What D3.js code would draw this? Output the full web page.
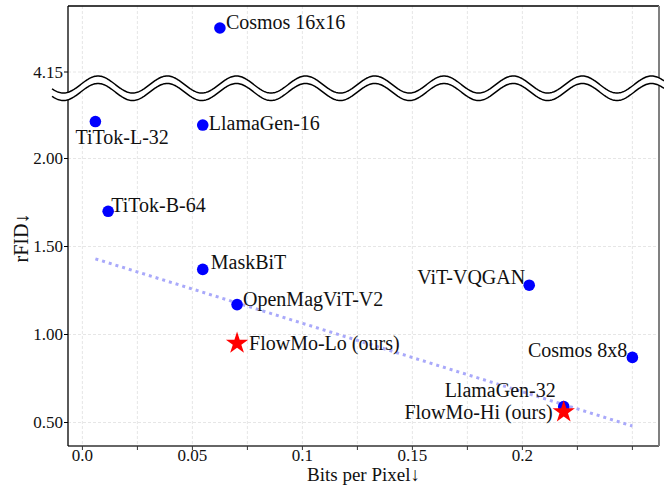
<!DOCTYPE html>
<html>
<head>
<meta charset="utf-8">
<script src="https://cdn.jsdelivr.net/npm/d3@7"></script>
<style>
  html, body { margin: 0; padding: 0; background: #fff; }
  svg text { font-family: "Liberation Serif", "Times New Roman", serif; fill: #111; }
</style>
</head>
<body>
<div id="chart"></div>
<script>
// data
const models = ['Cosmos 16x16', 'TiTok-L-32', 'LlamaGen-16', 'TiTok-B-64', 'MaskBiT', 'OpenMagViT-V2',
  'FlowMo-Lo (ours)', 'ViT-VQGAN', 'Cosmos 8x8', 'LlamaGen-32', 'FlowMo-Hi (ours)']
const bitsPerPixel = [0.0625, 0.0059, 0.0547, 0.0117, 0.0547, 0.0703, 0.0703, 0.2031, 0.25, 0.2188, 0.2188]
const rfidValues = [4.40, 2.21, 2.19, 1.70, 1.37, 1.17, 0.95, 1.28, 0.87, 0.59, 0.56]
const isOurs = [false, false, false, false, false, false, true, false, false, false, true]
const trendX = [0.0059, 0.25]
const trendY = [1.43, 0.48]
const xTicks = [0, 0.05, 0.1, 0.15, 0.2]
const xTickLabels = ['0.0', '0.05', '0.1', '0.15', '0.2']
const xMinorTicks = [0.025, 0.075, 0.125, 0.175, 0.225, 0.25]
const yTicks = [0.5, 1.0, 1.5, 2.0, 4.15]
const yTickLabels = ['0.50', '1.00', '1.50', '2.00', '4.15']

const width = 664
const height = 487
const plot = {left: 68, right: 659, top: 6, bottom: 446}

// label placement relative to the marker: [dx, dy, anchor]
const labelPos = {
  'Cosmos 16x16': [6, 1, 'start'],
  'TiTok-L-32': [-20, 22, 'start'],
  'LlamaGen-16': [6, 5, 'start'],
  'TiTok-B-64': [3, 1, 'start'],
  'MaskBiT': [8, 0, 'start'],
  'OpenMagViT-V2': [6, 1, 'start'],
  'FlowMo-Lo (ours)': [12, 7, 'start'],
  'ViT-VQGAN': [-4, -1, 'end'],
  'Cosmos 8x8': [-5, 0, 'end'],
  'LlamaGen-32': [-8, -10, 'end'],
  'FlowMo-Hi (ours)': [-11, 7, 'end']
}

const x = d3.scaleLinear().domain([-0.00655, 0.2621]).range([plot.left, plot.right])
// broken axis: the gap between 2.30 and 4.10 is squeezed into the wave band
const y = d3.scaleLinear().domain([0.3665, 2.30, 4.10, 4.525]).range([plot.bottom, 105.7, 80.8, plot.top])

const svg = d3.select('#chart').append('svg')
  .attr('width', width).attr('height', height)

// grid
const grid = svg.append('g')
grid.selectAll('line.gx')
  .data(xTicks.concat(xMinorTicks))
  .enter().append('line')
  .attr('x1', d => x(d)).attr('x2', d => x(d))
  .attr('y1', plot.top).attr('y2', plot.bottom)
  .attr('stroke', '#e0e0e0').attr('stroke-width', 0.8).attr('stroke-dasharray', '3,2')
grid.selectAll('line.gy')
  .data(yTicks)
  .enter().append('line')
  .attr('x1', plot.left).attr('x2', plot.right)
  .attr('y1', d => y(d)).attr('y2', d => y(d))
  .attr('stroke', '#e0e0e0').attr('stroke-width', 0.8).attr('stroke-dasharray', '3,2')

// trend line
svg.append('path')
  .datum(trendX.map((d, i) => [d, trendY[i]]))
  .attr('d', d3.line().x(d => x(d[0])).y(d => y(d[1])))
  .attr('fill', 'none').attr('stroke', '#a9a9fa').attr('stroke-width', 3).attr('stroke-dasharray', '3,4')

const points = models.map((m, i) => ({name: m, bpp: bitsPerPixel[i], rfid: rfidValues[i], ours: isOurs[i]}))

svg.selectAll('circle.pt')
  .data(points.filter(d => !d.ours))
  .enter().append('circle')
  .attr('cx', d => x(d.bpp)).attr('cy', d => y(d.rfid)).attr('r', 5.8)
  .attr('fill', '#0000ff')

svg.selectAll('path.star')
  .data(points.filter(d => d.ours))
  .enter().append('path')
  .attr('transform', d => `translate(${x(d.bpp)}, ${y(d.rfid)})`)
  .attr('d', d3.symbol().type(d3.symbolStar).size(155))
  .attr('fill', '#ff0000')

svg.selectAll('text.lbl')
  .data(points)
  .enter().append('text')
  .attr('x', d => x(d.bpp) + labelPos[d.name][0])
  .attr('y', d => y(d.rfid) + labelPos[d.name][1])
  .attr('text-anchor', d => labelPos[d.name][2])
  .attr('font-size', 20)
  .text(d => d.name)

// spines
svg.append('line').attr('x1', plot.left).attr('x2', plot.right).attr('y1', plot.top).attr('y2', plot.top)
  .attr('stroke', '#000').attr('stroke-width', 1.3)
svg.append('line').attr('x1', plot.left).attr('x2', plot.right).attr('y1', plot.bottom).attr('y2', plot.bottom)
  .attr('stroke', '#333').attr('stroke-width', 1.3)
svg.append('line').attr('x1', plot.left).attr('x2', plot.left).attr('y1', plot.top).attr('y2', plot.bottom)
  .attr('stroke', '#000').attr('stroke-width', 1.3)
svg.append('line').attr('x1', plot.right).attr('x2', plot.right).attr('y1', plot.top).attr('y2', plot.bottom)
  .attr('stroke', '#808080').attr('stroke-width', 2)

// ticks
svg.selectAll('line.xt')
  .data(xTicks.concat(xMinorTicks))
  .enter().append('line')
  .attr('x1', d => x(d)).attr('x2', d => x(d))
  .attr('y1', plot.bottom).attr('y2', plot.bottom + 4)
  .attr('stroke', '#333').attr('stroke-width', 1)
svg.selectAll('text.xt')
  .data(xTicks)
  .enter().append('text')
  .attr('x', d => x(d)).attr('y', plot.bottom + 15)
  .attr('text-anchor', 'middle').attr('font-size', 17)
  .text((d, i) => xTickLabels[i])

svg.selectAll('line.yt')
  .data(yTicks)
  .enter().append('line')
  .attr('x1', plot.left - 4).attr('x2', plot.left)
  .attr('y1', d => y(d)).attr('y2', d => y(d))
  .attr('stroke', '#000').attr('stroke-width', 1)
svg.selectAll('text.yt')
  .data(yTicks)
  .enter().append('text')
  .attr('x', plot.left - 5).attr('y', d => y(d)).attr('dy', '0.35em')
  .attr('text-anchor', 'end').attr('font-size', 17)
  .text((d, i) => yTickLabels[i])

// axis titles
svg.append('text')
  .attr('x', (plot.left + plot.right) / 2).attr('y', 481)
  .attr('text-anchor', 'middle').attr('font-size', 19)
  .text('Bits per Pixel↓')
svg.append('text')
  .attr('transform', `translate(28, ${(plot.top + plot.bottom) / 2 + 12}) rotate(-90)`)
  .attr('text-anchor', 'middle').attr('font-size', 20)
  .text('rFID↓')

// axis break wave
const WAVE_PERIOD = 69.2
const WAVE_AMP = 8.5
const waveXs = d3.range(52, width + 1, 1)
const waveY = (px, c) => c - WAVE_AMP * Math.cos(2 * Math.PI * (px - 98) / WAVE_PERIOD)
const upper = waveXs.map(px => [px, waveY(px, 84.5)])
const lower = waveXs.map(px => [px, waveY(px, 92)])

svg.append('path')
  .attr('d', 'M' + upper.map(p => p.join(',')).join('L') + 'L' + lower.slice().reverse().map(p => p.join(',')).join('L') + 'Z')
  .attr('fill', '#fff')
svg.selectAll('path.wave')
  .data([upper, lower])
  .enter().append('path')
  .attr('d', d3.line())
  .attr('fill', 'none').attr('stroke', '#000').attr('stroke-width', 1.5)
</script>
</body>
</html>
